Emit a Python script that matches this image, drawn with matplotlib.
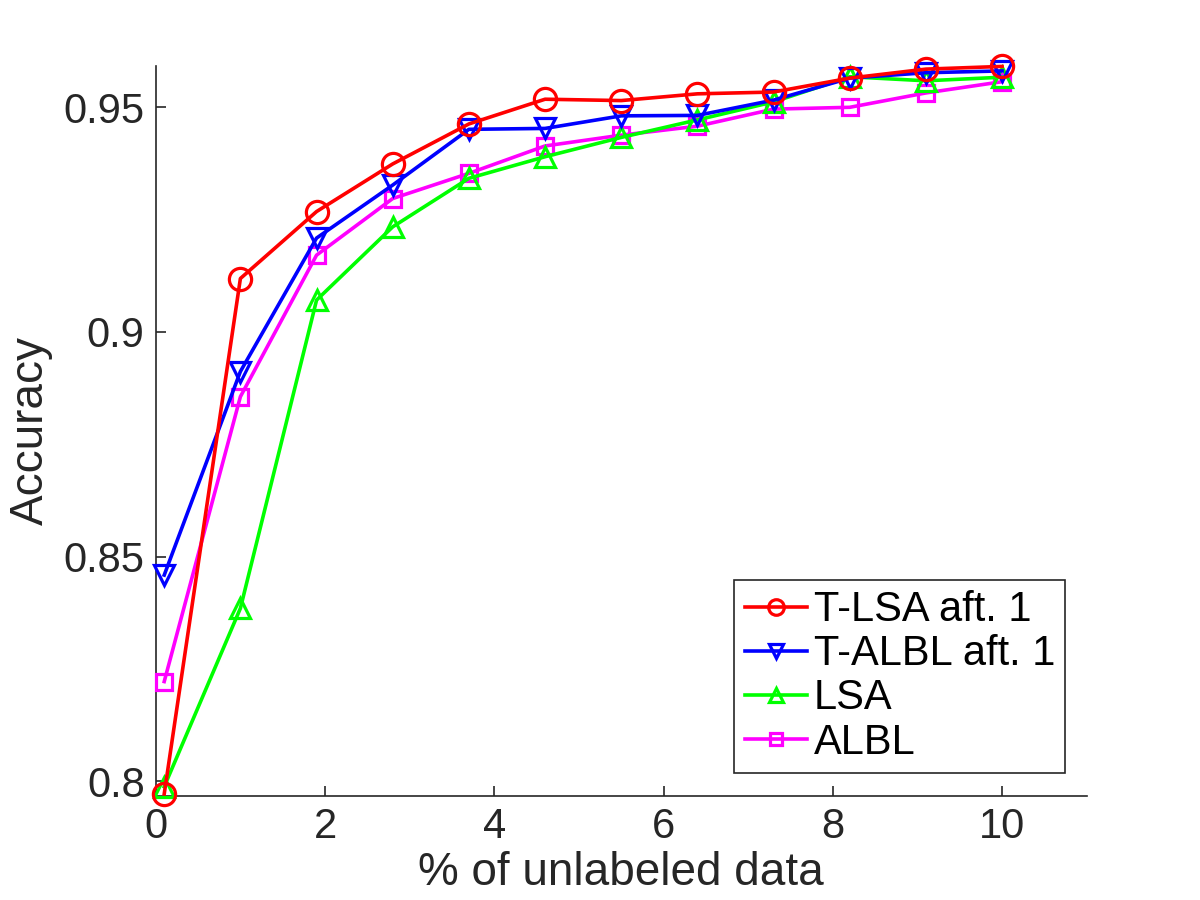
import matplotlib
matplotlib.use("Agg")
import matplotlib.pyplot as plt

x = [0.1, 1.0, 1.9, 2.8, 3.7, 4.6, 5.5, 6.4, 7.3, 8.2, 9.1, 10.0]
t_lsa = [0.7972, 0.9119, 0.9268, 0.9374, 0.9463, 0.9518, 0.9515, 0.9530, 0.9534, 0.9565, 0.9585, 0.9591]
t_albl = [0.8459, 0.8912, 0.9209, 0.9327, 0.9451, 0.9453, 0.9481, 0.9482, 0.9516, 0.9565, 0.9577, 0.9581]
lsa = [0.7988, 0.8385, 0.9071, 0.9234, 0.9342, 0.9390, 0.9433, 0.9472, 0.9512, 0.9568, 0.9559, 0.9567]
albl = [0.8222, 0.8856, 0.9171, 0.9297, 0.9353, 0.9414, 0.9438, 0.9458, 0.9496, 0.9500, 0.9532, 0.9557]
labels = ["T-LSA aft. 1", "T-ALBL aft. 1", "LSA", "ALBL"]
xticks = [0, 2, 4, 6, 8, 10]
yticks = [0.8, 0.85, 0.9, 0.95]
yticklabels = ["0.8", "0.85", "0.9", "0.95"]

plt.rcParams['font.family'] = ['Liberation Sans', 'DejaVu Sans']
axc = (0.15, 0.15, 0.15)

fig = plt.figure(figsize=(12, 9), dpi=100)
ax = fig.add_axes([0.1298, 0.1159, 0.7758, 0.8108])

lw = 2.6
mew = 2.3
ax.plot(x, t_lsa, color=(1, 0, 0), lw=lw, marker='o', ms=16, mfc='none', mew=mew, label=labels[0], clip_on=False, zorder=6)
ax.plot(x, t_albl, color=(0, 0, 1), lw=lw, marker='v', ms=15, mfc='none', mew=mew, label=labels[1], clip_on=False, zorder=5)
ax.plot(x, lsa, color=(0, 1, 0), lw=lw, marker='^', ms=15, mfc='none', mew=mew, label=labels[2], clip_on=False, zorder=4)
ax.plot(x, albl, color=(1, 0, 1), lw=lw, marker='s', ms=11.5, mfc='none', mew=mew, label=labels[3], clip_on=False, zorder=3)

ax.set_xlim(0, 11)
ax.set_ylim(0.7968, 0.9592)
ax.set_xticks(xticks)
ax.set_yticks(yticks)
ax.set_yticklabels(yticklabels)

for s in ['top', 'right']:
    ax.spines[s].set_visible(False)
for s in ['left', 'bottom']:
    ax.spines[s].set_color(axc)
    ax.spines[s].set_linewidth(1.2)
ax.tick_params(direction='in', length=7, width=1.2, colors=axc, labelsize=30, pad=8)

ax.set_xlabel("% of unlabeled data", fontsize=33, color=axc, labelpad=3)
ax.set_ylabel("Accuracy", fontsize=33, color=axc, labelpad=8)

leg = ax.legend(loc='lower right', bbox_to_anchor=(0.977, 0.031), borderaxespad=0,
                fancybox=False, framealpha=1, edgecolor=axc, fontsize=30,
                handlelength=1.5, handletextpad=0.15, labelspacing=0.1,
                borderpad=0.25, markerscale=0.7)
leg.get_frame().set_linewidth(1.2)

fig.savefig("out.png", dpi=100)
